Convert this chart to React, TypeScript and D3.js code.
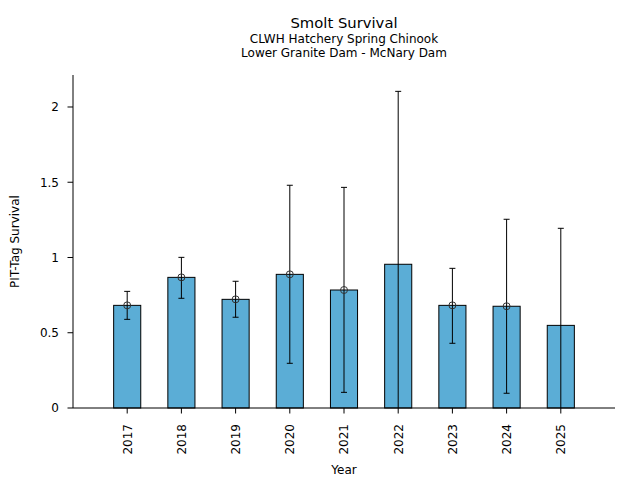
import React from "react";
import * as d3 from "d3";

const years = ["2017", "2018", "2019", "2020", "2021", "2022", "2023", "2024", "2025"];
const survival = [0.682, 0.868, 0.722, 0.888, 0.784, 0.955, 0.682, 0.676, 0.549];
const pointEst: (number | null)[] = [0.682, 0.868, 0.722, 0.888, 0.784, null, 0.682, 0.676, null];
const upper = [0.775, 1.001, 0.842, 1.48, 1.466, 2.104, 0.928, 1.254, 1.194];
const lower = [0.589, 0.729, 0.603, 0.297, 0.104, -0.1, 0.43, 0.098, -0.1];
const yTicks = [0, 0.5, 1, 1.5, 2];

const W = 640, H = 480;
const L = 73, R = 615, T = 75, B = 408;
const FONT = "DejaVu Sans, sans-serif";

export default function App() {
  const x = d3.scaleLinear().domain([-1, 9]).range([L, R]);
  const y = d3.scaleLinear().domain([0, 2.2126]).range([B, T]);
  const bw = x(0.25) - x(0);
  const cap = 3;
  const fmt = (v: number) => String(+v.toFixed(2));
  return (
    <svg width={W} height={H} style={{ position: "absolute", left: 0, top: 0 }} fontFamily={FONT}>
      <defs>
        <clipPath id="plot">
          <rect x={L} y={T} width={R - L} height={B - T} />
        </clipPath>
      </defs>
      <rect width={W} height={H} fill="#fff" />
      <text x={(L + R) / 2} y={28} textAnchor="middle" fontSize={14.8} fill="#000">Smolt Survival</text>
      <text x={(L + R) / 2} y={42.5} textAnchor="middle" fontSize={12} fill="#000">CLWH Hatchery Spring Chinook</text>
      <text x={(L + R) / 2} y={57} textAnchor="middle" fontSize={12} fill="#000">Lower Granite Dam - McNary Dam</text>
      <g>
        {years.map((yr, i) => (
          <rect key={yr} x={x(i) - bw} y={y(survival[i])} width={2 * bw} height={y(0) - y(survival[i])}
            fill="#5badd6" stroke="#000" strokeWidth={1} />
        ))}
      </g>
      <g clipPath="url(#plot)" stroke="#000" strokeWidth={1}>
        {years.map((yr, i) => (
          <g key={yr}>
            <line x1={x(i)} x2={x(i)} y1={y(lower[i])} y2={y(upper[i])} />
            <line x1={x(i) - cap} x2={x(i) + cap} y1={y(upper[i])} y2={y(upper[i])} />
            <line x1={x(i) - cap} x2={x(i) + cap} y1={y(lower[i])} y2={y(lower[i])} />
          </g>
        ))}
      </g>
      <g>
        {years.map((yr, i) =>
          pointEst[i] == null ? null : (
            <circle key={yr} cx={x(i)} cy={y(pointEst[i] as number)} r={3.5} fill="none" stroke="#333" strokeWidth={1} />
          )
        )}
      </g>
      <line x1={L} x2={L} y1={T} y2={B} stroke="#000" strokeWidth={1} />
      <line x1={L} x2={R} y1={B} y2={B} stroke="#000" strokeWidth={1} />
      {yTicks.map((t) => (
        <g key={t}>
          <line x1={L - 5.5} x2={L} y1={y(t)} y2={y(t)} stroke="#000" strokeWidth={1} />
          <text x={L - 14} y={y(t)} dy="0.36em" textAnchor="end" fontSize={12} fill="#000">{fmt(t)}</text>
        </g>
      ))}
      {years.map((yr, i) => (
        <g key={yr}>
          <line x1={x(i)} x2={x(i)} y1={B} y2={B + 5.5} stroke="#000" strokeWidth={1} />
          <text transform={`translate(${x(i)},${B + 16}) rotate(-90)`} textAnchor="end" dy="0.36em" fontSize={12} fill="#000">{yr}</text>
        </g>
      ))}
      <text x={(L + R) / 2} y={474} textAnchor="middle" fontSize={12} fill="#000">Year</text>
      <text transform={`translate(19,${(T + B) / 2}) rotate(-90)`} textAnchor="middle" fontSize={12} fill="#000">PIT-Tag Survival</text>
    </svg>
  );
}
